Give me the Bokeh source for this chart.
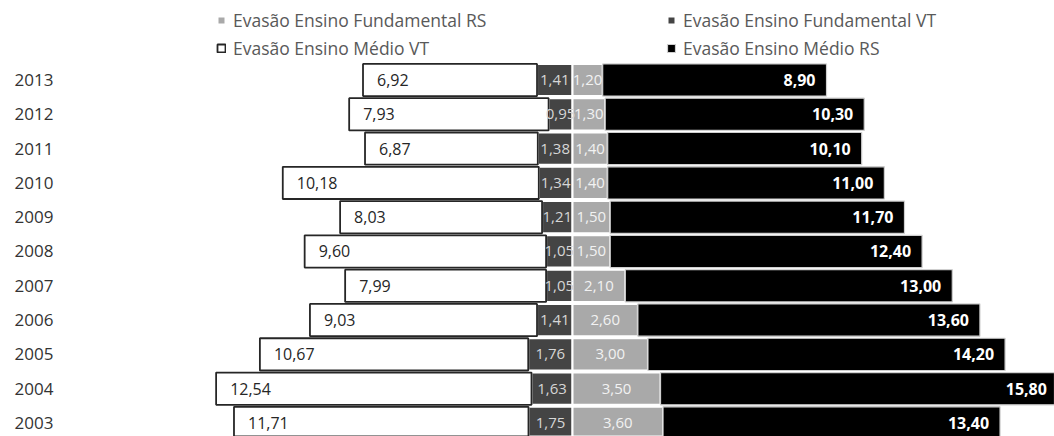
from bokeh.plotting import figure
from bokeh.models import ColumnDataSource, Range1d, FixedTicker, Legend, LegendItem
from bokeh.core.properties import value
from bokeh.embed import file_html
from bokeh.resources import INLINE

# Dropout rates (%) by year: Vitória (VT) and Rio Grande do Sul (RS)
years = [2013, 2012, 2011, 2010, 2009, 2008, 2007, 2006, 2005, 2004, 2003]
medio_vt = [6.92, 7.93, 6.87, 10.18, 8.03, 9.60, 7.99, 9.03, 10.67, 12.54, 11.71]
fund_vt = [1.41, 0.95, 1.38, 1.34, 1.21, 1.05, 1.05, 1.41, 1.76, 1.63, 1.75]
fund_rs = [1.20, 1.30, 1.40, 1.40, 1.50, 1.50, 2.10, 2.60, 3.00, 3.50, 3.60]
medio_rs = [8.90, 10.30, 10.10, 11.00, 11.70, 12.40, 13.00, 13.60, 14.20, 15.80, 13.40]

names = {
    "fund_rs": "Evasão Ensino Fundamental RS",
    "fund_vt": "Evasão Ensino Fundamental VT",
    "medio_vt": "Evasão Ensino Médio VT",
    "medio_rs": "Evasão Ensino Médio RS",
}


def fmt(v):
    return f"{v:.2f}".replace(".", ",")


# VT stacks to the left of zero, RS to the right
fvt_left = [-a for a in fund_vt]
mvt_left = [-(a + b) for a, b in zip(fund_vt, medio_vt)]
mrs_right = [a + b for a, b in zip(fund_rs, medio_rs)]

src = ColumnDataSource(dict(
    y=years,
    zero=[0] * len(years),
    fvt_left=fvt_left,
    mvt_left=mvt_left,
    frs=fund_rs,
    mrs_right=mrs_right,
    fvt_mid=[x / 2 for x in fvt_left],
    frs_mid=[x / 2 for x in fund_rs],
    lab_mvt=[fmt(v) for v in medio_vt],
    lab_fvt=[fmt(v) for v in fund_vt],
    lab_frs=[fmt(v) for v in fund_rs],
    lab_mrs=[fmt(v) for v in medio_rs],
))

p = figure(
    width=1054, height=436,
    x_range=Range1d(-20.358, 19.165),
    y_range=Range1d(2002.606, 2015.318),
    output_backend="svg", toolbar_location=None,
    min_border_left=60, min_border_right=0,
    min_border_top=0, min_border_bottom=0,
)
p.outline_line_color = None
p.background_fill_color = "white"
p.border_fill_color = "white"
p.grid.visible = False
p.xaxis.visible = False

yax = p.yaxis[0]
yax.ticker = FixedTicker(ticks=years)
yax.axis_line_color = None
yax.major_tick_line_color = None
yax.minor_tick_line_color = None
yax.major_tick_out = 0
yax.major_tick_in = 0
yax.major_label_standoff = 7
yax.major_label_text_font = "Open Sans"
yax.major_label_text_font_size = "17px"
yax.major_label_text_color = "#333333"

h = 0.94
r_fvt = p.hbar(y="y", left="fvt_left", right="zero", height=h, source=src,
               fill_color="#444444", line_color="white", line_width=2)
r_frs = p.hbar(y="y", left="zero", right="frs", height=h, source=src,
               fill_color="#a9a9a9", line_color="white", line_width=2)
r_mvt = p.hbar(y="y", left="mvt_left", right="fvt_left", height=h, source=src,
               fill_color="white", line_color="#262626", line_width=1.8)
r_mrs = p.hbar(y="y", left="frs", right="mrs_right", height=h, source=src,
               fill_color="black", line_color="#cfcfcf", line_width=1.2)

font = value("Open Sans")
p.text(x="mvt_left", y="y", text="lab_mvt", source=src, x_offset=14,
       text_font=font, text_font_size="16px", text_color="#262626",
       text_align="left", text_baseline="middle")
p.text(x="fvt_mid", y="y", text="lab_fvt", source=src,
       text_font=font, text_font_size="15px", text_color="#d6d6d6",
       text_align="center", text_baseline="middle")
p.text(x="frs_mid", y="y", text="lab_frs", source=src,
       text_font=font, text_font_size="15px", text_color="#f2f2f2",
       text_align="center", text_baseline="middle")
p.text(x="mrs_right", y="y", text="lab_mrs", source=src, x_offset=-11,
       text_font=font, text_font_size="16px", text_font_style="bold",
       text_color="white", text_align="right", text_baseline="middle")


def make_legend(items, loc):
    lg = Legend(items=items, location=loc, orientation="vertical")
    lg.background_fill_alpha = 0
    lg.border_line_alpha = 0
    lg.padding = 0
    lg.margin = 0
    lg.spacing = 4
    lg.glyph_width = 10
    lg.glyph_height = 10
    lg.label_height = 22
    lg.label_standoff = 7
    lg.label_text_font = "Open Sans"
    lg.label_text_font_size = "17.5px"
    lg.label_text_color = "#595959"
    return lg


leg_left = make_legend([
    LegendItem(label=names["fund_rs"], renderers=[r_frs]),
    LegendItem(label=names["medio_vt"], renderers=[r_mvt]),
], (156, 376))
leg_right = make_legend([
    LegendItem(label=names["fund_vt"], renderers=[r_fvt]),
    LegendItem(label=names["medio_rs"], renderers=[r_mrs]),
], (606, 376))
p.add_layout(leg_left)
p.add_layout(leg_right)

open("out.html", "w").write(file_html(p, INLINE))
